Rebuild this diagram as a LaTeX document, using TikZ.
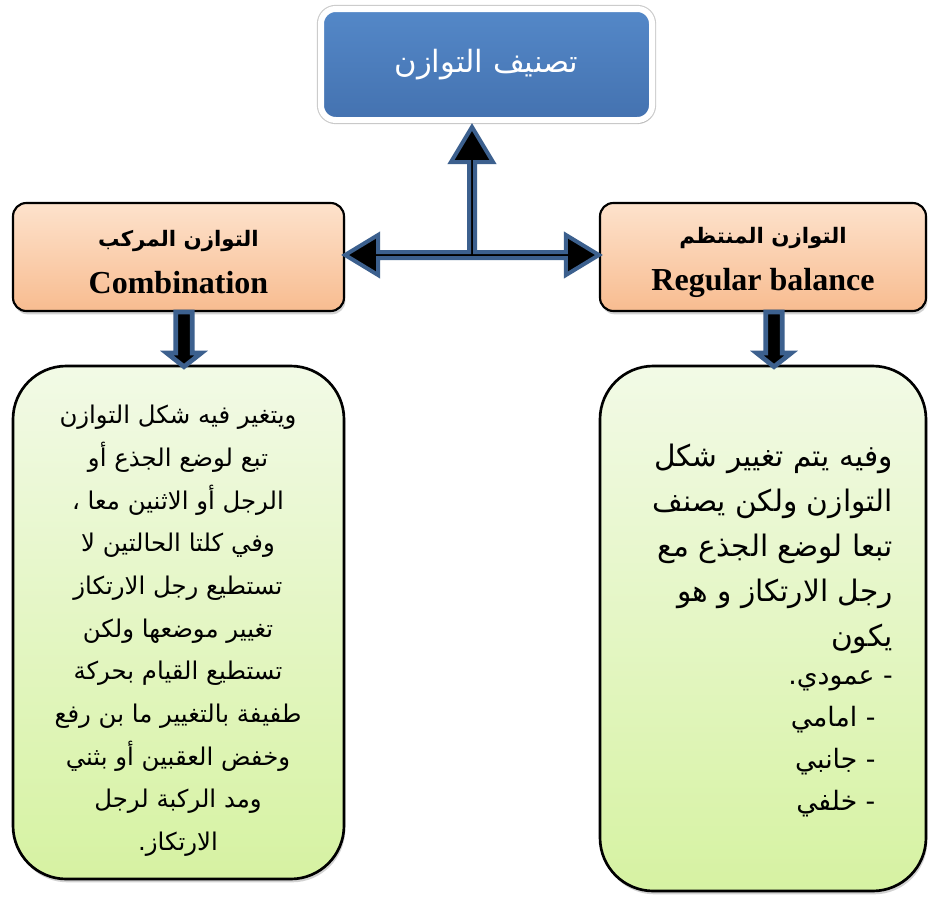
\documentclass[tikz,border=0pt]{standalone}
\usepackage{fontspec}
\setmainfont{Liberation Serif}
\newfontfamily\arabicfont[Script=Arabic]{DejaVu Sans}
\TeXXeTstate=1
\usetikzlibrary{shadows}
\usetikzlibrary{calc}

\definecolor{titleTop}{RGB}{84,136,200}
\definecolor{titleBot}{RGB}{68,114,176}
\definecolor{peachTop}{RGB}{253,226,204}
\definecolor{peachBot}{RGB}{248,188,144}
\definecolor{leafTop}{RGB}{242,250,230}
\definecolor{leafBot}{RGB}{214,242,162}
\definecolor{arrowBlue}{RGB}{60,96,142}

\newcommand{\artext}[1]{{\arabicfont\beginR #1\endR}}

\begin{document}
\begin{tikzpicture}[
    x=0.75pt, y=-0.75pt,
    softshadow/.style={
        drop shadow={shadow xshift=1pt, shadow yshift=-2.5pt, opacity=.35}
    },
    titlebox/.style={
        rectangle,
        rounded corners=11pt,
        minimum width={248.25pt},
        minimum height={83.25pt},
        inner sep=0pt,
        preaction={draw=gray!40, line width=6.2pt},
        draw=white,
        line width=4.5pt,
        top color=titleTop,
        bottom color=titleBot,
        text=white,
        softshadow
    },
    headbox/.style={
        rectangle,
        rounded corners=10pt,
        minimum height={81pt},
        inner sep=0pt,
        draw=black,
        line width=1.6pt,
        top color=peachTop,
        bottom color=peachBot,
        align=center,
        font=\bfseries\fontsize{24}{35}\selectfont,
        softshadow
    },
    notebox/.style={
        rectangle,
        rounded corners=40pt,
        inner sep=0pt,
        draw=black,
        line width=2pt,
        top color=leafTop,
        bottom color=leafBot,
        softshadow
    },
    notetext/.style={inner sep=0pt},
    blockarrow/.style={draw=arrowBlue, fill=black, line width=3pt, line join=miter},
    downarrow/.style={blockarrow, line width=3.5pt}
]
\fill[white] (0,0) rectangle (928,896);
\useasboundingbox (0,0) rectangle (928,896);

% boxes
\node [titlebox] (top) at (486.5,64.5) {\artext{\fontsize{23}{27}\selectfont تصنيف التوازن}};

\node [headbox, minimum width={248.25pt}] (comb) at (178.5,257)
    {\rule{0pt}{20pt}\artext{\fontsize{16}{35}\selectfont التوازن المركب}\\Combination};
\node [headbox, minimum width={244.5pt}] (reg) at (763,257)
    {\rule{0pt}{20pt}\artext{\fontsize{16}{35}\selectfont التوازن المنتظم}\\Regular balance};

\node [notebox, minimum width={248.25pt}, minimum height={384.75pt}] (combTxt) at (178.5,622.5) {};
\node [notebox, minimum width={244.5pt}, minimum height={393.75pt}] (regTxt) at (763,628.5) {};

% texts of the green boxes
\node [notetext, align=center, font=\arabicfont\fontsize{18.3}{32}\selectfont] (combBody) at (178,631) {
    \artext{ويتغير فيه شكل التوازن}\\
    \artext{تبع لوضع الجذع أو}\\
    \artext{الرجل أو الاثنين معا ،}\\
    \artext{وفي كلتا الحالتين لا}\\
    \artext{تستطيع رجل الارتكاز}\\
    \artext{تغيير موضعها ولكن}\\
    \artext{تستطيع القيام بحركة}\\
    \artext{طفيفة بالتغيير ما بن رفع}\\
    \artext{وخفض العقبين أو بثني}\\
    \artext{ومد الركبة لرجل}\\
    \artext{الارتكاز.}};

\node [notetext, align=right, anchor=north east, font=\arabicfont\fontsize{22.2}{33.75}\selectfont] (regBody) at (893,444) {
    \artext{وفيه يتم تغيير شكل}\\
    \artext{التوازن ولكن يصنف}\\
    \artext{تبعا لوضع الجذع مع}\\
    \artext{رجل الارتكاز و هو}\\
    \artext{يكون}};
\node [notetext, align=right, anchor=north east, font=\arabicfont\fontsize{20}{31.5}\selectfont] (regList) at ($(regBody.south east)+(0,16)$) {
    \artext{- عمودي.}\\
    \artext{\hspace*{13pt}- امامي}\\
    \artext{\hspace*{13pt}- جانبي}\\
    \artext{\hspace*{13pt}- خلفي}};

% arrows
\coordinate (hub) at (472,255);
\coordinate (upTip) at (hub |- top.south);
\coordinate (lTip) at (hub -| comb.east);
\coordinate (rTip) at (hub -| reg.west);

\draw[blockarrow] ($(upTip)+(0,4)$) -- ++(21,35) -- ++(-18,0) |- ($(rTip)+(-33,-3)$) -- ++(0,-17)
    -- (rTip) -- ++(-33,20) -- ++(0,-17) -- ($(lTip)+(33,3)$) -- ++(0,17)
    -- (lTip) -- ++(33,-20) -- ++(0,17) -| ($(upTip)+(-3,39)$) -- ++(-18,0) -- cycle;

\draw[downarrow] ($(comb.south)+(-2.7,0)$) -- ++(0,41) -- ++(-9,0) -- ($(combTxt.north)+(5.5,2)$)
    -- ($(comb.south)+(22.7,41)$) -- ++(-9,0) -- ($(comb.south)+(13.7,0)$) -- cycle;
\draw[downarrow] ($(reg.south)+(2.8,0)$) -- ++(0,41) -- ++(-9,0) -- ($(regTxt.north)+(11,2)$)
    -- ($(reg.south)+(28.2,41)$) -- ++(-9,0) -- ($(reg.south)+(19.2,0)$) -- cycle;
\end{tikzpicture}
\end{document}
